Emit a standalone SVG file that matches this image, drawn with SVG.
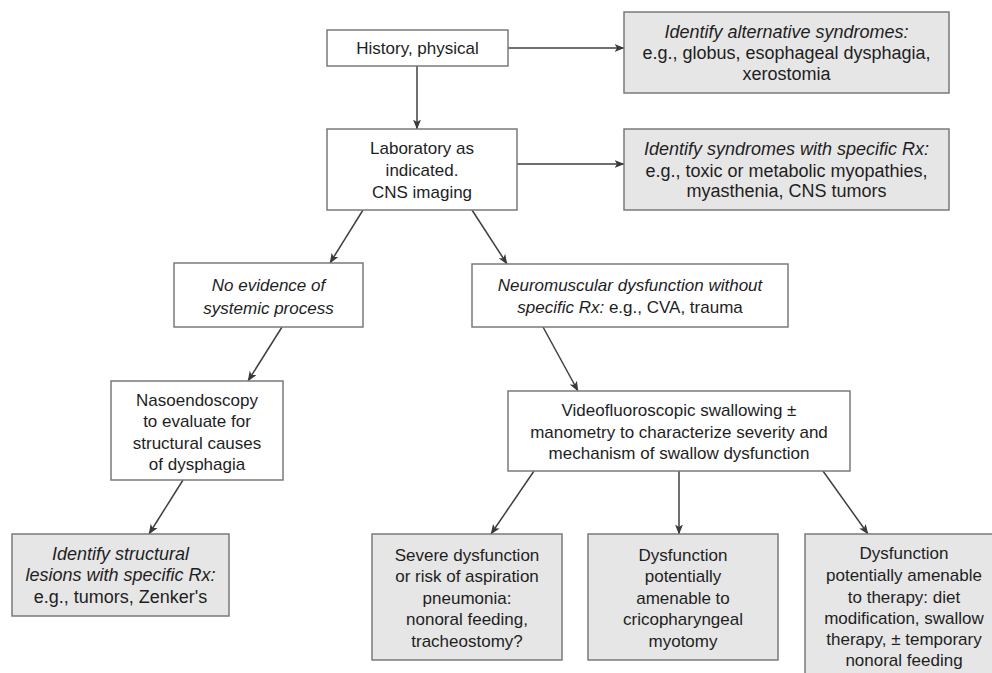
<svg xmlns="http://www.w3.org/2000/svg" width="992" height="673" viewBox="0 0 992 673">
<defs>
<marker id="ah" viewBox="0 0 10 8" refX="9.5" refY="4" markerWidth="10" markerHeight="8" markerUnits="userSpaceOnUse" orient="auto">
<path d="M0,0 L10,4 L0,8 L2.5,4 z" fill="#3a3a3a"/>
</marker>
<style>
.w{fill:#ffffff;stroke:#7a7a7a;stroke-width:1.5}
.g{fill:#e6e6e6;stroke:#7a7a7a;stroke-width:1.5}
text{font-family:"Liberation Sans",Arial,sans-serif;fill:#1e1e1e;text-anchor:middle}
.s17{font-size:17px}
.s18{font-size:18px}
.i{font-style:italic}
.c{fill:none;stroke:#3f3f3f;stroke-width:1.5;marker-end:url(#ah)}
</style>
</defs>
<rect width="992" height="673" fill="#ffffff"/>
<g id="connectors">
<line class="c" x1="508" y1="48" x2="624" y2="48"/>
<line class="c" x1="417" y1="66" x2="417" y2="129"/>
<line class="c" x1="517" y1="164" x2="624" y2="164"/>
<line class="c" x1="363" y1="210" x2="330" y2="263"/>
<line class="c" x1="472" y1="210" x2="507" y2="264"/>
<line class="c" x1="282" y1="327" x2="248" y2="381"/>
<line class="c" x1="183" y1="480" x2="149" y2="534"/>
<line class="c" x1="543" y1="327" x2="578" y2="391"/>
<line class="c" x1="534" y1="471" x2="491" y2="534"/>
<line class="c" x1="679" y1="471" x2="679" y2="534"/>
<line class="c" x1="823" y1="471" x2="868" y2="534"/>
</g>
<g id="history">
<rect class="w" x="327" y="30" width="181" height="36"/>
<text class="s17" x="417.5" y="54">History, physical</text>
</g>
<g id="alt-syndromes">
<rect class="g" x="624" y="12" width="325" height="81"/>
<text class="s18" x="786.5" y="38"><tspan class="i">Identify alternative syndromes:</tspan></text>
<text class="s18" x="786.5" y="59">e.g., globus, esophageal dysphagia,</text>
<text class="s18" x="786.5" y="80">xerostomia</text>
</g>
<g id="laboratory">
<rect class="w" x="327" y="129" width="190" height="81"/>
<text class="s17" x="422" y="154">Laboratory as</text>
<text class="s17" x="422" y="176">indicated.</text>
<text class="s17" x="422" y="198">CNS imaging</text>
</g>
<g id="specific-rx">
<rect class="g" x="624" y="129" width="325" height="81"/>
<text class="s18 i" x="786.5" y="155">Identify syndromes with specific Rx:</text>
<text class="s18" x="786.5" y="177">e.g., toxic or metabolic myopathies,</text>
<text class="s18" x="786.5" y="197">myasthenia, CNS tumors</text>
</g>
<g id="no-evidence">
<rect class="w" x="174" y="263" width="189" height="64"/>
<text class="s17 i" x="268.5" y="291">No evidence of</text>
<text class="s17 i" x="268.5" y="314">systemic process</text>
</g>
<g id="neuromuscular">
<rect class="w" x="472" y="264" width="316" height="63"/>
<text class="s17 i" x="630" y="291">Neuromuscular dysfunction without</text>
<text class="s17" x="630" y="313"><tspan class="i">specific Rx:</tspan> e.g., CVA, trauma</text>
</g>
<g id="nasoendoscopy">
<rect class="w" x="111" y="381" width="172" height="99"/>
<text class="s17" x="197" y="406">Nasoendoscopy</text>
<text class="s17" x="197" y="427">to evaluate for</text>
<text class="s17" x="197" y="449">structural causes</text>
<text class="s17" x="197" y="470">of dysphagia</text>
</g>
<g id="structural-lesions">
<rect class="g" x="12" y="534" width="217" height="82"/>
<text class="s18 i" x="120.5" y="560">Identify structural</text>
<text class="s18 i" x="120.5" y="581">lesions with specific Rx:</text>
<text class="s18" x="120.5" y="603">e.g., tumors, Zenker's</text>
</g>
<g id="videofluoroscopic">
<rect class="w" x="508" y="391" width="342" height="80"/>
<text class="s17" x="679" y="416">Videofluoroscopic swallowing ±</text>
<text class="s17" x="679" y="438">manometry to characterize severity and</text>
<text class="s17" x="679" y="459">mechanism of swallow dysfunction</text>
</g>
<g id="severe">
<rect class="g" x="372" y="534" width="190" height="126"/>
<text class="s17" x="467" y="561">Severe dysfunction</text>
<text class="s17" x="467" y="582">or risk of aspiration</text>
<text class="s17" x="467" y="604">pneumonia:</text>
<text class="s17" x="467" y="625">nonoral feeding,</text>
<text class="s17" x="467" y="647">tracheostomy?</text>
</g>
<g id="myotomy">
<rect class="g" x="588" y="534" width="190" height="126"/>
<text class="s17" x="683" y="561">Dysfunction</text>
<text class="s17" x="683" y="582">potentially</text>
<text class="s17" x="683" y="604">amenable to</text>
<text class="s17" x="683" y="625">cricopharyngeal</text>
<text class="s17" x="683" y="647">myotomy</text>
</g>
<g id="therapy">
<rect class="g" x="805" y="534" width="198" height="150"/>
<text class="s17" x="904" y="559">Dysfunction</text>
<text class="s17" x="904" y="581">potentially amenable</text>
<text class="s17" x="904" y="603">to therapy: diet</text>
<text class="s17" x="904" y="624">modification, swallow</text>
<text class="s17" x="904" y="645">therapy, ± temporary</text>
<text class="s17" x="904" y="666">nonoral feeding</text>
</g>
</svg>
